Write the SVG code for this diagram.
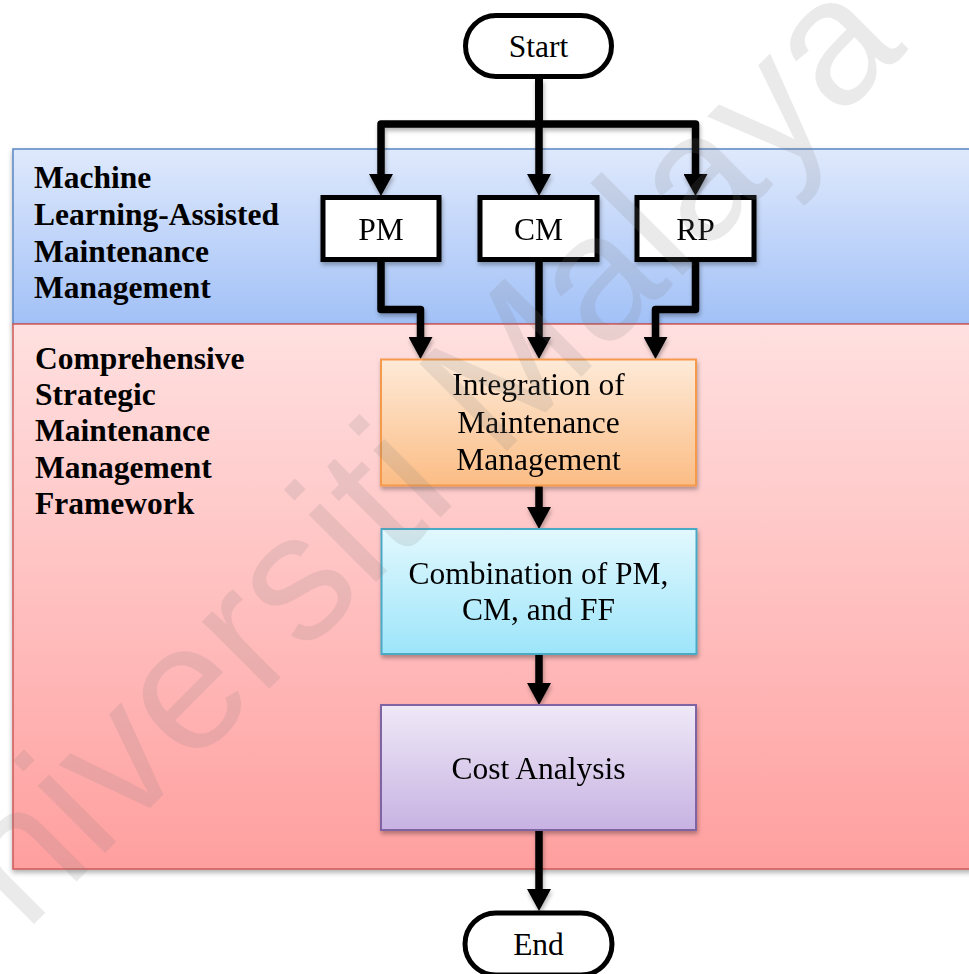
<svg xmlns="http://www.w3.org/2000/svg" width="969" height="974" viewBox="0 0 969 974">
  <defs>
    <linearGradient id="gBlue" x1="0" y1="0" x2="0" y2="1">
      <stop offset="0" stop-color="#dfe9fc"/>
      <stop offset="1" stop-color="#a2c1f7"/>
    </linearGradient>
    <linearGradient id="gRed" x1="0" y1="0" x2="0" y2="1">
      <stop offset="0" stop-color="#ffe0e0"/>
      <stop offset="1" stop-color="#ff9f9f"/>
    </linearGradient>
    <linearGradient id="gOrange" x1="0" y1="0" x2="0" y2="1">
      <stop offset="0" stop-color="#feead8"/>
      <stop offset="1" stop-color="#fbbd85"/>
    </linearGradient>
    <linearGradient id="gAqua" x1="0" y1="0" x2="0" y2="1">
      <stop offset="0" stop-color="#e2f8fe"/>
      <stop offset="1" stop-color="#9de5fa"/>
    </linearGradient>
    <linearGradient id="gPurple" x1="0" y1="0" x2="0" y2="1">
      <stop offset="0" stop-color="#efe9f7"/>
      <stop offset="1" stop-color="#c7b2e2"/>
    </linearGradient>
    <filter id="shadow" x="-10%" y="-10%" width="130%" height="140%">
      <feDropShadow dx="1" dy="3" stdDeviation="2" flood-color="#000" flood-opacity="0.3"/>
    </filter>
    <filter id="bandShadow" x="-5%" y="-5%" width="115%" height="115%">
      <feDropShadow dx="0" dy="3" stdDeviation="2.5" flood-color="#000" flood-opacity="0.3"/>
    </filter>
    <marker id="arrow" markerUnits="userSpaceOnUse" markerWidth="23" markerHeight="24" viewBox="0 0 22 24" refX="0" refY="12" orient="auto">
      <path d="M0,0 L22,12 L0,24 Z" fill="#000"/>
    </marker>
    <style>
      .band-blue { fill: url(#gBlue); stroke: #5a86c4; stroke-width: 1.5; }
      .band-red { fill: url(#gRed); stroke: #cf5a58; stroke-width: 1.5; }
      .term { fill: #fff; stroke: #000; stroke-width: 5; }
      .box { fill: #fff; stroke: #000; stroke-width: 5; }
      .step { stroke-width: 2; }
      .txt { font-family: "Liberation Serif", "Times New Roman", serif; font-size: 31.5px; fill: #000; text-anchor: middle; }
      .lbl { font-family: "Liberation Serif", "Times New Roman", serif; font-size: 31.5px; font-weight: bold; fill: #000; }
      .conn { fill: none; stroke: #000; stroke-width: 7.5; stroke-linejoin: round; marker-end: url(#arrow); }
      .mark { font-family: "Liberation Sans", Arial, sans-serif; font-size: 180px; fill: #7f7f7f; fill-opacity: 0.16; }
    </style>
  </defs>

  <rect width="969" height="974" fill="#fff"/>

  <!-- swimlane bands -->
  <g id="lane-ml" filter="url(#bandShadow)">
    <rect class="band-blue" x="13" y="149" width="970" height="175"/>
  </g>
  <g id="lane-framework" filter="url(#bandShadow)">
    <rect class="band-red" x="13" y="324" width="970" height="545"/>
  </g>
  <g id="lane-labels">
    <text class="lbl" x="34" y="188">Machine</text>
    <text class="lbl" x="34" y="224.5">Learning-Assisted</text>
    <text class="lbl" x="34" y="261.5">Maintenance</text>
    <text class="lbl" x="34" y="298">Management</text>
    <text class="lbl" x="35" y="368.5">Comprehensive</text>
    <text class="lbl" x="35" y="405">Strategic</text>
    <text class="lbl" x="35" y="441">Maintenance</text>
    <text class="lbl" x="35" y="477.5">Management</text>
    <text class="lbl" x="35" y="514">Framework</text>
  </g>

  <!-- connectors -->
  <g id="connectors" filter="url(#shadow)">
    <path class="conn" d="M539,79 V124 H381 V174"/>
    <path class="conn" d="M539,79 V174"/>
    <path class="conn" d="M539,79 V124 H695.5 V174"/>
    <path class="conn" d="M381,262 V309.5 H420.5 V337"/>
    <path class="conn" d="M539,262 V337"/>
    <path class="conn" d="M695.5,262 V309.5 H655.5 V337"/>
    <path class="conn" d="M539,486 V507"/>
    <path class="conn" d="M539,654 V683"/>
    <path class="conn" d="M539,830 V889"/>
  </g>

  <!-- nodes -->
  <g id="start">
    <rect class="term" x="465.5" y="15.5" width="146" height="61" rx="30.5"/>
    <text class="txt" x="538.5" y="56.5">Start</text>
  </g>
  <g id="pm" filter="url(#shadow)">
    <rect class="box" x="323" y="197.5" width="116" height="62"/>
    <text class="txt" x="381" y="240">PM</text>
  </g>
  <g id="cm" filter="url(#shadow)">
    <rect class="box" x="480" y="197.5" width="117" height="62"/>
    <text class="txt" x="538.5" y="240">CM</text>
  </g>
  <g id="rp" filter="url(#shadow)">
    <rect class="box" x="637" y="197.5" width="117" height="62"/>
    <text class="txt" x="695.5" y="240">RP</text>
  </g>
  <g id="integration" filter="url(#shadow)">
    <rect class="step" x="381" y="359.5" width="315" height="126" fill="url(#gOrange)" stroke="#f59a4c"/>
    <text class="txt" x="538.5" y="395">Integration of</text>
    <text class="txt" x="538.5" y="432.5">Maintenance</text>
    <text class="txt" x="538.5" y="469.5">Management</text>
  </g>
  <g id="combination" filter="url(#shadow)">
    <rect class="step" x="381.5" y="529" width="315" height="125" fill="url(#gAqua)" stroke="#4aaac6"/>
    <text class="txt" x="538.5" y="583.5">Combination of PM,</text>
    <text class="txt" x="538.5" y="620">CM, and FF</text>
  </g>
  <g id="cost" filter="url(#shadow)">
    <rect class="step" x="381" y="705" width="315" height="125" fill="url(#gPurple)" stroke="#8064a2"/>
    <text class="txt" x="538.5" y="778.5">Cost Analysis</text>
  </g>
  <g id="end">
    <rect class="term" x="465" y="913" width="147" height="62" rx="31"/>
    <text class="txt" x="538.5" y="955">End</text>
  </g>

  <!-- diagonal watermark -->
  <text class="mark" transform="translate(-67,1025) rotate(-45)" textLength="1380" lengthAdjust="spacing">Universiti Malaya</text>
</svg>
